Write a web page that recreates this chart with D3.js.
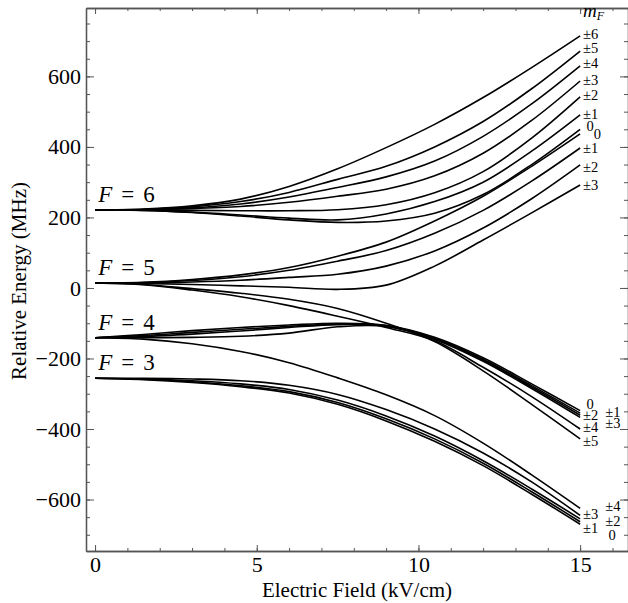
<!DOCTYPE html>
<html>
<head>
<meta charset="utf-8">
<script src="https://cdn.jsdelivr.net/npm/d3@7"></script>
<style>
  body { margin: 0; background: #fff; }
  svg text { font-family: "Liberation Serif", "DejaVu Serif", serif; fill: #000; }
</style>
</head>
<body>
<svg id="chart" width="628" height="603"></svg>
<script>
// electric field sample points (kV/cm)
const field = [0, 1.5, 3, 4.5, 6, 7.5, 9, 10.5, 12, 13.5, 15];

// energies (MHz), one row per curve
const levelsF6 = [
  [221, 224, 233, 252, 288, 338, 398, 464, 540, 625, 715],
  [221, 223, 230, 245, 271, 308, 345, 400, 472, 565, 672],
  [221, 222, 227, 238, 258, 285, 315, 360, 430, 522, 630],
  [221, 222, 225, 231, 243, 260, 280, 318, 382, 475, 587],
  [221, 221, 220, 219, 219, 222, 236, 270, 330, 425, 542],
  [221, 220, 215, 207, 198, 193, 210, 245, 300, 388, 491],
  [221, 220, 214, 204, 193, 186, 190, 212, 265, 350, 450]
];
const levelsF5 = [
  [14, 16, 24, 37, 58, 90, 130, 190, 260, 345, 437],
  [14, 15, 21, 32, 50, 76, 106, 155, 220, 303, 397],
  [14, 14, 17, 22, 30, 39, 62, 105, 170, 253, 349],
  [14, 13, 10, 6, 2, -4, 8, 62, 136, 213, 292],
  [14, 10, -2, -15, -32, -58, -100, -152, -235, -330, -428],
  [14, 9, -6, -25, -50, -80, -112, -150, -225, -308, -400]
];
const levelsF4 = [
  [-141, -132, -121, -112, -105, -100, -106, -140, -198, -272, -348],
  [-141, -135, -126, -117, -109, -102, -107, -142, -202, -277, -355],
  [-141, -138, -131, -122, -112, -104, -108, -144, -205, -281, -361],
  [-141, -141, -140, -137, -128, -110, -109, -146, -208, -285, -367],
  [-141, -145, -158, -180, -212, -255, -303, -362, -440, -530, -625]
];
const levelsF3 = [
  [-256, -256, -258, -263, -276, -302, -345, -400, -468, -550, -645],
  [-256, -258, -263, -272, -288, -318, -363, -420, -490, -570, -655],
  [-256, -259, -266, -277, -294, -325, -371, -428, -497, -578, -663],
  [-256, -260, -268, -280, -298, -330, -377, -435, -504, -585, -670]
];

const manifolds = [
  { label: "6", e0: 221 },
  { label: "5", e0: 14 },
  { label: "4", e0: -141 },
  { label: "3", e0: -256 }
];

// m_F labels at the right end: text, field, energy
const mfLabels = [
  ["±6", 15.09, 720], ["±5", 15.09, 681], ["±4", 15.09, 638], ["±3", 15.09, 590],
  ["±2", 15.09, 548], ["±1", 15.09, 494], ["0", 15.2, 458], ["0", 15.42, 437],
  ["±1", 15.09, 397], ["±2", 15.09, 343], ["±3", 15.09, 292],
  ["0", 15.2, -330], ["±2", 15.09, -360], ["±1", 15.78, -351],
  ["±4", 15.09, -396], ["±3", 15.78, -383], ["±5", 15.09, -434],
  ["±4", 15.78, -620], ["±3", 15.09, -643], ["±2", 15.78, -661],
  ["±1", 15.09, -682], ["0", 15.88, -702]
];

const yMajor = [-600, -400, -200, 0, 200, 400, 600];
const yMinor = d3.range(-700, 751, 50);
const xMajor = [0, 5, 10, 15];
const xMinor = d3.range(0, 17, 1);

const serif = '"Liberation Serif", "DejaVu Serif", serif';
const svg = d3.select("#chart");
const x = d3.scaleLinear().domain([-0.28, 16.48]).range([86, 628]);
const y = d3.scaleLinear().domain([-746, 794]).range([551, 8]);

const fmt = d => d < 0 ? "\u2212" + Math.abs(d) : String(d);
const axisColor = "#555";

function styleAxis(g) {
  g.attr("font-family", serif);
  g.selectAll(".domain").attr("stroke", axisColor).attr("stroke-width", 1.3);
  g.selectAll(".tick line").attr("stroke", axisColor).attr("stroke-width", 1);
  g.selectAll(".tick text").attr("font-size", 22).attr("fill", "#000")
    .attr("font-family", serif);
}

// left
svg.append("g").attr("transform", "translate(86,0)")
  .call(d3.axisLeft(y).tickValues(yMinor).tickSizeInner(-4).tickSizeOuter(0).tickFormat(""))
  .call(styleAxis);
svg.append("g").attr("transform", "translate(86,0)")
  .call(d3.axisLeft(y).tickValues(yMajor).tickSizeInner(-8).tickSizeOuter(0).tickPadding(5).tickFormat(fmt))
  .call(styleAxis);
// right
svg.append("g").attr("transform", "translate(628,0)")
  .call(d3.axisRight(y).tickValues(yMinor).tickSizeInner(-4).tickSizeOuter(0).tickFormat(""))
  .call(styleAxis);
svg.append("g").attr("transform", "translate(628,0)")
  .call(d3.axisRight(y).tickValues(yMajor).tickSizeInner(-8).tickSizeOuter(0).tickFormat(""))
  .call(styleAxis);
// bottom
svg.append("g").attr("transform", "translate(0,551)")
  .call(d3.axisBottom(x).tickValues(xMinor).tickSizeInner(-3).tickSizeOuter(0).tickFormat(""))
  .call(styleAxis);
svg.append("g").attr("transform", "translate(0,551)")
  .call(d3.axisBottom(x).tickValues(xMajor).tickSizeInner(-6).tickSizeOuter(0).tickPadding(5).tickFormat(fmt))
  .call(styleAxis);
// top
svg.append("g").attr("transform", "translate(0,8)")
  .call(d3.axisTop(x).tickValues(xMinor).tickSizeInner(-3).tickSizeOuter(0).tickFormat(""))
  .call(styleAxis);
svg.append("g").attr("transform", "translate(0,8)")
  .call(d3.axisTop(x).tickValues(xMajor).tickSizeInner(-6).tickSizeOuter(0).tickFormat(""))
  .call(styleAxis);

// curves
const line = d3.line()
  .x((d, i) => x(field[i]))
  .y(d => y(d))
  .curve(d3.curveCatmullRom.alpha(0.5));

const allLevels = [...levelsF6, ...levelsF5, ...levelsF4, ...levelsF3];
svg.append("g").selectAll("path")
  .data(allLevels)
  .enter().append("path")
  .attr("d", line)
  .attr("fill", "none")
  .attr("stroke", "#000")
  .attr("stroke-width", 1.6);

// F = n labels
const fl = svg.append("g").selectAll("text")
  .data(manifolds)
  .enter().append("text")
  .attr("x", x(0.1))
  .attr("y", d => y(d.e0) - 8)
  .attr("font-family", serif)
  .attr("font-size", 23);
fl.append("tspan").attr("font-style", "italic").text("F");
fl.append("tspan").attr("dx", 9).text("=");
fl.append("tspan").attr("dx", 9).text(d => d.label);

// m_F labels
svg.append("g").selectAll("text")
  .data(mfLabels)
  .enter().append("text")
  .attr("x", d => x(d[1]))
  .attr("y", d => y(d[2]))
  .attr("dy", "0.33em")
  .attr("font-family", serif)
  .attr("font-size", 14.5)
  .text(d => d[0]);

const mf = svg.append("text").attr("x", 583).attr("y", 17)
  .attr("font-family", serif).attr("font-size", 19).attr("font-style", "italic");
mf.append("tspan").text("m");
mf.append("tspan").attr("font-size", 12).attr("dy", 3).text("F");

// axis titles
svg.append("text")
  .attr("x", 357).attr("y", 597)
  .attr("text-anchor", "middle")
  .attr("font-family", serif)
  .attr("font-size", 21)
  .text("Electric Field (kV/cm)");

svg.append("text")
  .attr("transform", "translate(26,281) rotate(-90)")
  .attr("text-anchor", "middle")
  .attr("font-family", serif)
  .attr("font-size", 21)
  .text("Relative Energy (MHz)");
</script>
</body>
</html>
